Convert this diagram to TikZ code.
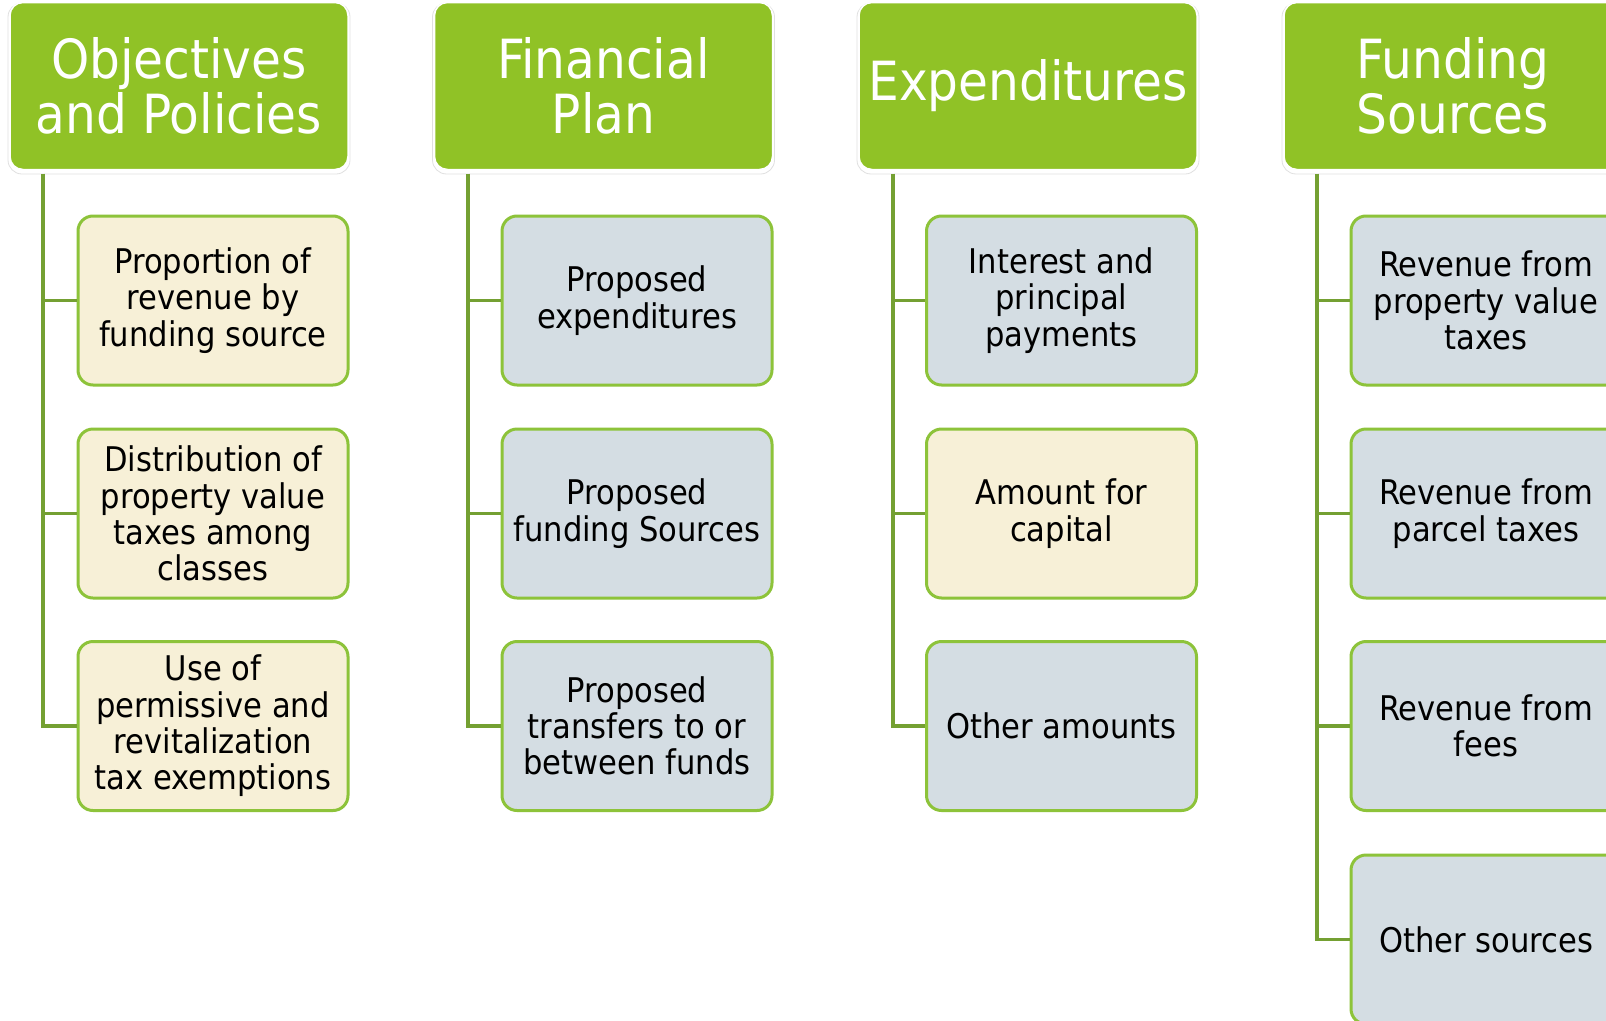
\documentclass[tikz,border=0pt]{standalone}
\usepackage{fontspec}
\setmainfont{DejaVu Sans Condensed}
\definecolor{hdrgreen}{HTML}{90C226}
\definecolor{boxline}{HTML}{8DC33A}
\definecolor{connline}{HTML}{74A032}
\definecolor{beige}{HTML}{F7F0D7}
\definecolor{bluegrey}{HTML}{D4DDE3}
\tikzset{
  header/.style={rectangle, rounded corners=13pt, fill=hdrgreen, draw=white, line width=1.5pt,
    minimum width=338pt, minimum height=167pt, inner sep=0pt, align=center, text=white,
    font=\fontsize{54}{55.5}\selectfont},
  hdrshadow/.style={rectangle, rounded corners=14pt, draw=black!12, line width=0.8pt,
    minimum width=342pt, minimum height=171pt, inner sep=0pt},
  child/.style={rectangle, rounded corners=15pt, draw=boxline, line width=3pt,
    minimum width=270pt, minimum height=169pt, inner sep=0pt, align=center, text=black,
    font=\fontsize{34}{36.3}\selectfont},
  bchild/.style={child, fill=beige},
  gchild/.style={child, fill=bluegrey},
  conn/.style={draw=connline, line width=3.2pt}
}
\begin{document}
\begin{tikzpicture}[x=1pt,y=-1pt]
\useasboundingbox (0,0) rectangle (1606,1020);
\clip (0,0) rectangle (1606,1020);
\fill[white] (0,0) rectangle (1606,1020);
% header shadows
\node[hdrshadow] (s1) at (179,88.5) {};
\node[hdrshadow] (s2) at (603.5,88.5) {};
\node[hdrshadow] (s3) at (1028,88.5) {};
\node[hdrshadow] (s4) at (1453,88.5) {};
% headers
\node[header] (h1) at (179,86) {Objectives\\and Policies};
\node[header] (h2) at (603.5,86) {Financial\\Plan};
\node[header] (h3) at (1028,86) {Expenditures};
\node[header] (h4) at (1453,86) {Funding\\Sources};
% column 1
\node[bchild] (c11) at (213,300.5) {Proportion of\\revenue by\\funding source};
\node[bchild] (c12) at (213,513.5) {Distribution of\\property value\\taxes among\\classes};
\node[bchild] (c13) at (213,726) {Use of\\permissive and\\revitalization\\tax exemptions};
% column 2
\node[gchild] (c21) at (637,300.5) {Proposed\\expenditures};
\node[gchild] (c22) at (637,513.5) {Proposed\\funding Sources};
\node[gchild] (c23) at (637,726) {Proposed\\transfers to or\\between funds};
% column 3
\node[gchild] (c31) at (1061.5,300.5) {Interest and\\principal\\payments};
\node[bchild] (c32) at (1061.5,513.5) {Amount for\\capital};
\node[gchild] (c33) at (1061.5,726) {Other amounts};
% column 4
\node[gchild] (c41) at (1486,300.5) {Revenue from\\property value\\taxes};
\node[gchild] (c42) at (1486,513.5) {Revenue from\\parcel taxes};
\node[gchild] (c43) at (1486,726) {Revenue from\\fees};
\node[gchild] (c44) at (1486,939.5) {Other sources};
% trunk tops
\coordinate (t1) at (43,173.5);
\coordinate (t2) at (468,173.5);
\coordinate (t3) at (893,173.5);
\coordinate (t4) at (1317,173.5);
% connectors
\draw[conn] (t1) |- (c13.west);
\draw[conn] (t1 |- c11.west) -- (c11.west);
\draw[conn] (t1 |- c12.west) -- (c12.west);
\draw[conn] (t2) |- (c23.west);
\draw[conn] (t2 |- c21.west) -- (c21.west);
\draw[conn] (t2 |- c22.west) -- (c22.west);
\draw[conn] (t3) |- (c33.west);
\draw[conn] (t3 |- c31.west) -- (c31.west);
\draw[conn] (t3 |- c32.west) -- (c32.west);
\draw[conn] (t4) |- (c44.west);
\draw[conn] (t4 |- c41.west) -- (c41.west);
\draw[conn] (t4 |- c42.west) -- (c42.west);
\draw[conn] (t4 |- c43.west) -- (c43.west);
\end{tikzpicture}
\end{document}
